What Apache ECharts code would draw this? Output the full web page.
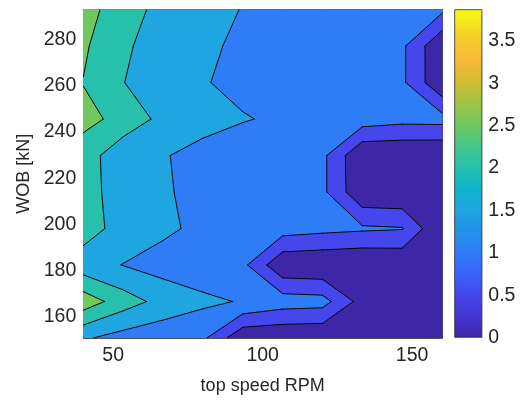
<!DOCTYPE html>
<html>
<head>
<meta charset="utf-8">
<script src="https://cdn.jsdelivr.net/npm/echarts@6/dist/echarts.min.js"></script>
<style>
  html, body { margin: 0; background: #fff; }
  #chart { width: 522px; height: 401px; }
</style>
</head>
<body>
<div id="chart"></div>
<script>
// grid columns: top speed RPM
const rpm = [40, 53.33, 66.67, 80, 93.33, 106.67, 120, 133.33, 146.67, 160];
// grid rows: WOB [kN]
const wob = [150.8, 166.6, 182.4, 198.2, 214.0, 229.8, 245.6, 261.4, 277.2, 293.0];
// one row of values per WOB, one column per RPM
const z0 = [1.565, 1.303, 1.18, 1.10, 0.10, 0.05, 0.04, 0.0, 0.0, 0.0];
const z1 = [2.794, 2.24, 1.833, 1.60, 1.465, 1.25, 1.20, 0.30, 0.10, 0.05];
const z2 = [1.707, 1.488, 1.296, 1.208, 1.124, 0.09, 0.05, 0.0, 0.05, 0.0];
const z3 = [2.26, 1.78, 1.60, 1.378, 1.30, 1.23, 1.14, 1.077, 1.03, 0.0];
const z4 = [2.20, 1.765, 1.55, 1.37, 1.30, 1.20, 1.113, 0.083, 0.048, 0.0];
const z5 = [2.30, 1.60, 1.54, 1.32, 1.23, 1.18, 1.119, 0.04, 0.02, 0.0];
const z6 = [2.62, 2.38, 1.837, 1.70, 1.53, 1.427, 1.30, 1.26, 1.16, 1.18];
const z7 = [2.487, 2.01, 1.75, 1.53, 1.38, 1.30, 1.25, 1.20, 1.092, 0.067];
const z8 = [2.57, 2.103, 1.70, 1.55, 1.45, 1.35, 1.30, 1.22, 1.093, 0.059];
const z9 = [2.80, 2.086, 1.94, 1.60, 1.49, 1.35, 1.30, 1.25, 1.20, 1.11];
const zRows = [z0, z1, z2, z3, z4, z5, z6, z7, z8, z9];

// contour levels and the colour of the band above each one
const levels = [0, 0.5, 1, 1.5, 2, 2.5, 3, 3.5];
const levelColors = ['#3d27a6', '#4547ec', '#2e7df6', '#1fa5df', '#27c1ab', '#70c95f', '#d3bb30', '#f8c92c'];

const xTicks = [50, 100, 150];
const yTicks = [160, 180, 200, 220, 240, 260, 280];
const cbTicks = [0, 0.5, 1, 1.5, 2, 2.5, 3, 3.5];
const cbMax = 3.87;

// parula-like colour stops for the colour bar
const cbStops = [
    [0, '#3e26a8'], [0.065, '#4535d2'], [0.13, '#4547ec'], [0.195, '#3a63fb'],
    [0.26, '#2e7df6'], [0.325, '#2392e8'], [0.39, '#1fa5df'], [0.455, '#0eb5cb'],
    [0.52, '#26c1ab'], [0.585, '#45c68a'], [0.65, '#70c95f'], [0.72, '#a5c444'],
    [0.78, '#d3bb30'], [0.85, '#fbb93a'], [0.92, '#f4d02a'], [1, '#f9fb14']
];

const FONT = '"Liberation Sans", Arial, Helvetica, sans-serif';
const AXIS = '#262626';

// each cell: x0, y0, x1, y1, then corner values BL, BR, TR, TL
const cells = [];
for (let r = 0; r < wob.length - 1; r++) {
    for (let c = 0; c < rpm.length - 1; c++) {
        cells.push([rpm[c], wob[r], rpm[c + 1], wob[r + 1],
            zRows[r][c], zRows[r][c + 1], zRows[r + 1][c + 1], zRows[r + 1][c]]);
    }
}

function cellOf(api) {
    const a = api.coord([api.value(0), api.value(1)]);
    const b = api.coord([api.value(2), api.value(3)]);
    return {
        pts: [[a[0], a[1]], [b[0], a[1]], [b[0], b[1]], [a[0], b[1]]],
        v: [api.value(4), api.value(5), api.value(6), api.value(7)]
    };
}

function cut(p, q, vp, vq, L) {
    const t = (L - vp) / (vq - vp);
    return [p[0] + t * (q[0] - p[0]), p[1] + t * (q[1] - p[1])];
}

// region >= level k inside one cell; one series per level, painted low to high
function makeFill(k) {
    const L = levels[k];
    return function (params, api) {
        const { pts, v } = cellOf(api);
        const poly = [];
        for (let i = 0; i < 4; i++) {
            const j = (i + 1) % 4;
            const hi = v[i] >= L, hj = v[j] >= L;
            if (hi) poly.push(pts[i]);
            if (hi !== hj) poly.push(cut(pts[i], pts[j], v[i], v[j], L));
        }
        if (poly.length < 3) return null;
        return {
            type: 'polygon',
            shape: { points: poly },
            style: { fill: levelColors[k], stroke: levelColors[k], lineWidth: 1 }
        };
    };
}

// black contour lines
function renderLines(params, api) {
    const { pts, v } = cellOf(api);
    const children = [];
    const seg = (p, q) => children.push({
        type: 'line',
        shape: { x1: p[0], y1: p[1], x2: q[0], y2: q[1] },
        style: { stroke: '#000', lineWidth: 1, lineCap: 'round' }
    });
    levels.slice(1).forEach(L => {
        const cr = [];
        for (let i = 0; i < 4; i++) {
            const j = (i + 1) % 4;
            if ((v[i] >= L) !== (v[j] >= L)) cr.push(cut(pts[i], pts[j], v[i], v[j], L));
        }
        if (cr.length === 2) seg(cr[0], cr[1]);
        else if (cr.length === 4) {
            if (v[0] >= L) { seg(cr[0], cr[1]); seg(cr[2], cr[3]); }
            else { seg(cr[1], cr[2]); seg(cr[3], cr[0]); }
        }
    });
    return { type: 'group', children };
}

const lineStyle = { color: AXIS, width: 0.8 };
const labelStyle = { color: AXIS, fontSize: 19.5, fontFamily: FONT };

const fillSeries = levels.map((L, k) => ({
    type: 'custom', xAxisIndex: 0, yAxisIndex: 0,
    renderItem: makeFill(k), data: cells, clip: true,
    encode: { x: [0, 2], y: [1, 3] }, z: 1
}));

const chart = echarts.init(document.getElementById('chart'));
chart.setOption({
    animation: false,
    grid: [
        { left: 83.3, top: 9.5, width: 358.7, height: 328.5 },
        { left: 454.3, top: 9.3, width: 28, height: 328.4 }
    ],
    xAxis: [
        {
            gridIndex: 0, type: 'value', min: 40, max: 160, position: 'bottom',
            axisLine: { onZero: false, lineStyle },
            axisTick: { inside: true, length: 4, customValues: xTicks, lineStyle },
            axisLabel: Object.assign({ customValues: xTicks, margin: 8 }, labelStyle),
            splitLine: { show: false },
            name: 'top speed RPM', nameLocation: 'middle', nameGap: 39,
            nameTextStyle: { color: AXIS, fontSize: 18, fontFamily: FONT }
        },
        {
            gridIndex: 0, type: 'value', min: 40, max: 160, position: 'top',
            axisLine: { onZero: false, lineStyle },
            axisTick: { inside: true, length: 4, customValues: xTicks, lineStyle },
            axisLabel: { show: false },
            splitLine: { show: false }
        },
        { gridIndex: 1, type: 'category', data: ['c'], show: false }
    ],
    yAxis: [
        {
            gridIndex: 0, type: 'value', min: 150.8, max: 293, position: 'left',
            axisLine: { onZero: false, lineStyle },
            axisTick: { inside: true, length: 4, customValues: yTicks, lineStyle },
            axisLabel: Object.assign({ customValues: yTicks, margin: 7 }, labelStyle),
            splitLine: { show: false },
            name: 'WOB [kN]', nameLocation: 'middle', nameGap: 47, nameRotate: 90,
            nameTextStyle: { color: AXIS, fontSize: 18, fontFamily: FONT }
        },
        {
            gridIndex: 0, type: 'value', min: 150.8, max: 293, position: 'right',
            axisLine: { onZero: false, lineStyle },
            axisTick: { inside: true, length: 4, customValues: yTicks, lineStyle },
            axisLabel: { show: false },
            splitLine: { show: false }
        },
        {
            gridIndex: 1, type: 'value', min: 0, max: cbMax, position: 'right',
            axisLine: { show: false },
            axisTick: { inside: true, length: 4, customValues: cbTicks, lineStyle },
            axisLabel: Object.assign({ customValues: cbTicks, margin: 6 }, labelStyle),
            splitLine: { show: false }
        }
    ],
    series: fillSeries.concat([
        {
            type: 'custom', xAxisIndex: 0, yAxisIndex: 0,
            renderItem: renderLines, data: cells, clip: true,
            encode: { x: [0, 2], y: [1, 3] }, z: 2
        },
        {
            type: 'bar', xAxisIndex: 2, yAxisIndex: 2,
            data: [cbMax], barWidth: '100%', z: 1,
            itemStyle: {
                color: new echarts.graphic.LinearGradient(0, 1, 0, 0,
                    cbStops.map(s => ({ offset: s[0], color: s[1] }))),
                borderColor: AXIS, borderWidth: 0.8
            }
        }
    ])
});
</script>
</body>
</html>
